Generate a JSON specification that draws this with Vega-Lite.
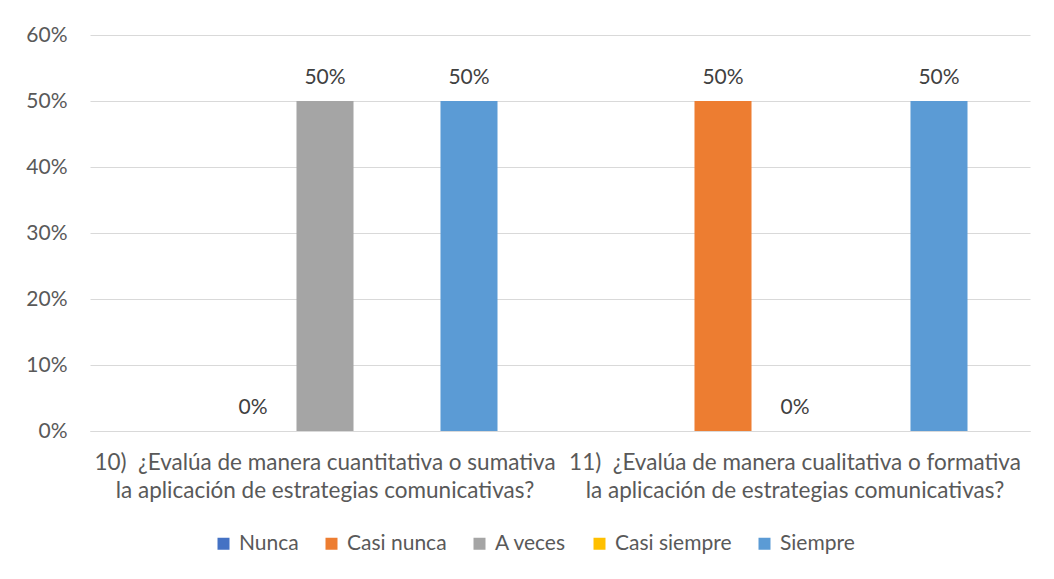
{
  "$schema": "https://vega.github.io/schema/vega-lite/v6.json",
  "width": 940,
  "height": 396,
  "autosize": {"type": "none"},
  "padding": {"left": 90, "top": 35, "right": 24, "bottom": 148},
  "background": "white",
  "config": {"font": "Lato", "view": {"stroke": null}},
  "data": {
    "values": [
      {"q": "10)  ¿Evalúa de manera cuantitativa o sumativa|la aplicación de estrategias comunicativas?", "s": "Casi nunca", "v": 0},
      {"q": "10)  ¿Evalúa de manera cuantitativa o sumativa|la aplicación de estrategias comunicativas?", "s": "A veces", "v": 0.5},
      {"q": "10)  ¿Evalúa de manera cuantitativa o sumativa|la aplicación de estrategias comunicativas?", "s": "Siempre", "v": 0.5},
      {"q": "11)  ¿Evalúa de manera cualitativa o formativa|la aplicación de estrategias comunicativas?", "s": "Casi nunca", "v": 0.5},
      {"q": "11)  ¿Evalúa de manera cualitativa o formativa|la aplicación de estrategias comunicativas?", "s": "A veces", "v": 0},
      {"q": "11)  ¿Evalúa de manera cualitativa o formativa|la aplicación de estrategias comunicativas?", "s": "Siempre", "v": 0.5}
    ]
  },
  "encoding": {
    "x": {
      "field": "q", "type": "nominal", "sort": null,
      "scale": {"paddingInner": 0, "paddingOuter": 0},
      "axis": {"title": null, "labelAngle": 0, "labelExpr": "split(replace(datum.value, ')  ', ')\u00a0 '), '|')", "labelLimit": 0, "labelFontSize": 22.5, "labelLineHeight": 28, "labelPadding": 20, "labelBaseline": "top", "ticks": false, "domainColor": "#D9D9D9", "labelColor": "#595959", "labelFont": "Lato"}
    },
    "xOffset": {
      "field": "s", "type": "nominal",
      "scale": {"domain": ["Nunca", "Casi nunca", "A veces", "Casi siempre", "Siempre"], "paddingInner": 0.208, "paddingOuter": 0.868}
    },
    "y": {
      "field": "v", "type": "quantitative",
      "scale": {"domain": [0, 0.6]},
      "axis": {"title": null, "format": ".0%", "values": [0, 0.1, 0.2, 0.3, 0.4, 0.5, 0.6], "grid": true, "gridColor": "#D9D9D9", "domain": false, "ticks": false, "labelPadding": 23, "labelFontSize": 21, "labelColor": "#595959", "labelFont": "Lato"}
    }
  },
  "layer": [
    {
      "mark": {"type": "bar"},
      "encoding": {
        "color": {
          "field": "s", "type": "nominal",
          "scale": {"domain": ["Nunca", "Casi nunca", "A veces", "Casi siempre", "Siempre"], "range": ["#4472C4", "#ED7D31", "#A5A5A5", "#FFC000", "#5B9BD5"]},
          "legend": {"title": null, "orient": "none", "direction": "horizontal", "columns": 5, "legendX": 123, "legendY": 498, "symbolType": "square", "symbolSize": 144, "symbolStrokeWidth": 0, "labelFontSize": 21, "labelColor": "#595959", "labelFont": "Lato", "labelOffset": 5, "columnPadding": 22}
        }
      }
    },
    {
      "mark": {"type": "text", "baseline": "bottom", "dy": -13, "fontSize": 21, "color": "#404040", "font": "Lato"},
      "encoding": {"text": {"field": "v", "type": "quantitative", "format": ".0%"}}
    }
  ]
}
